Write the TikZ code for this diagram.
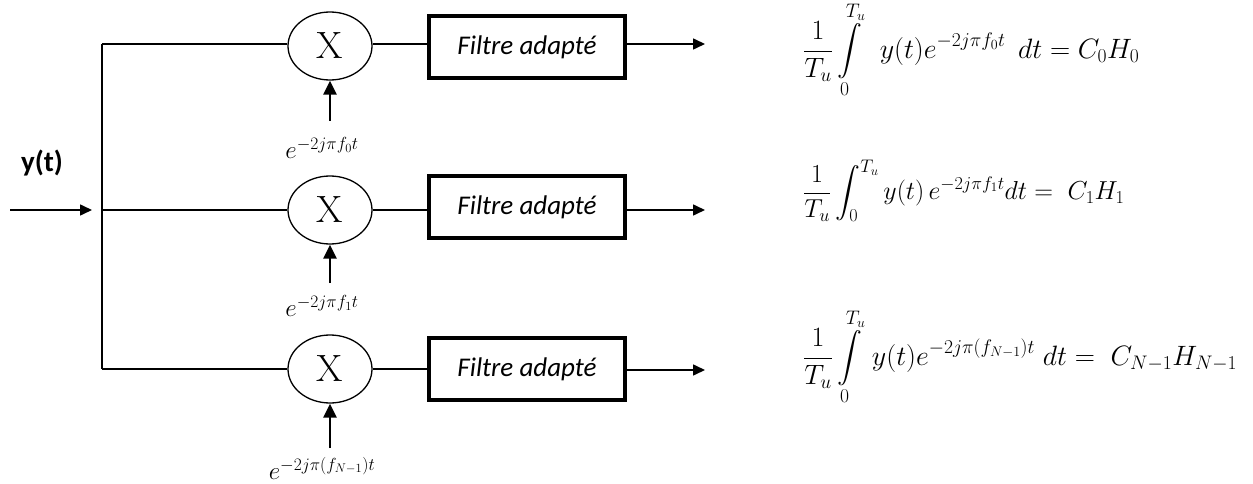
\RequirePackage{fix-cm}
\documentclass[tikz,border=0pt]{standalone}
\usepackage{fontspec}
\usepackage{amsmath}
\newfontfamily\calib{Carlito}
\usetikzlibrary{arrows.meta,shapes.geometric}
\begin{document}
\begin{tikzpicture}[x=1pt,y=-1pt,
  wire/.style={line width=1.4pt},
  arr/.style={line width=1.6pt,-{Triangle[length=12pt,width=11pt]}},
  varr/.style={line width=2.6pt,-{Triangle[length=14pt,width=13pt]}},
  mult/.style={ellipse,draw,line width=1.3pt,minimum width=84pt,minimum height=68pt,inner sep=0pt,font=\fontsize{38}{40}\selectfont},
  filt/.style={draw,line width=3.8pt,minimum width=196pt,minimum height=62pt,inner sep=0pt,font=\calib\itshape\fontsize{27}{29}\selectfont},
  osc/.style={font=\fontsize{25}{27}\selectfont,inner sep=0pt},
  eq/.style={anchor=west,inner sep=0pt,font=\fontsize{26}{30}\selectfont},
  eqbig/.style={eq,font=\fontsize{28}{32}\selectfont}]
\useasboundingbox (0,0) rectangle (1253,484);
% input
\node[font=\calib\bfseries\fontsize{29}{31}\selectfont,inner sep=0pt] (yt) at (42,163) {y(t)};
\coordinate (in) at (10,210);
\coordinate (tip) at (92,210);
\coordinate (b1) at (102,44);
\coordinate (b2) at (102,210);
\coordinate (b3) at (102,369);
\draw[arr] (in) -- (tip);
\draw[wire] (b1) -- (b3);
% multipliers
\node[mult] (m1) at (330,46) {X};
\node[mult] (m2) at (330,210) {X};
\node[mult] (m3) at (330,369) {X};
\draw[wire] (b1) -- (m1.west|-b1);
\draw[wire] (b2) -- (m2);
\draw[wire] (b3) -- (m3);
% oscillators
\coordinate (o1) at (330,121);
\coordinate (o2) at (330,283);
\coordinate (o3) at (330,448);
\draw[varr] (o1) -- (m1);
\draw[varr] (o2) -- (m2);
\draw[varr] (o3) -- (m3);
\node[osc] (l1) at (322,148) {$e^{-2j\pi f_0 t}$};
\node[osc] (l2) at (322,306) {$e^{-2j\pi f_1 t}$};
\node[osc] (l3) at (322,468) {$e^{-2j\pi (f_{N-1}) t}$};
% filters
\node[filt] (f1) at (527,47) {Filtre adapté};
\node[filt] (f2) at (527,207) {Filtre adapté};
\node[filt] (f3) at (527,369) {Filtre adapté};
\draw[wire] (m1.east|-b1) -- (f1.west|-b1);
\draw[wire] (m2) -- (f2.west|-m2);
\draw[wire] (m3) -- (f3.west|-m3);
\coordinate (e1) at (705,44);
\coordinate (e2) at (705,210);
\coordinate (e3) at (705,370);
\draw[arr] (f1.east|-e1) -- (e1);
\draw[arr] (f2.east|-e2) -- (e2);
\draw[arr] (f3.east|-e3) -- (e3);
% equations
\node[eqbig] (q1) at (803,50) {$\displaystyle \frac{1}{T_u}\int\limits_0^{T_u}\;\, y(t)e^{-2j\pi f_0 t}\;\,dt = C_0H_0$};
\node[eq] (q2) at (803,191) {$\displaystyle \frac{1}{T_u}\int_0^{T_u} y(t)\,e^{-2j\pi f_1 t}dt =\; C_1H_1$};
\node[eqbig] (q3) at (803,357) {$\displaystyle \frac{1}{T_u}\int\limits_0^{T_u}\, y(t)e^{-2j\pi (f_{N-1}) t}\;dt =\; C_{N-1}H_{N-1}$};
\end{tikzpicture}
\end{document}
